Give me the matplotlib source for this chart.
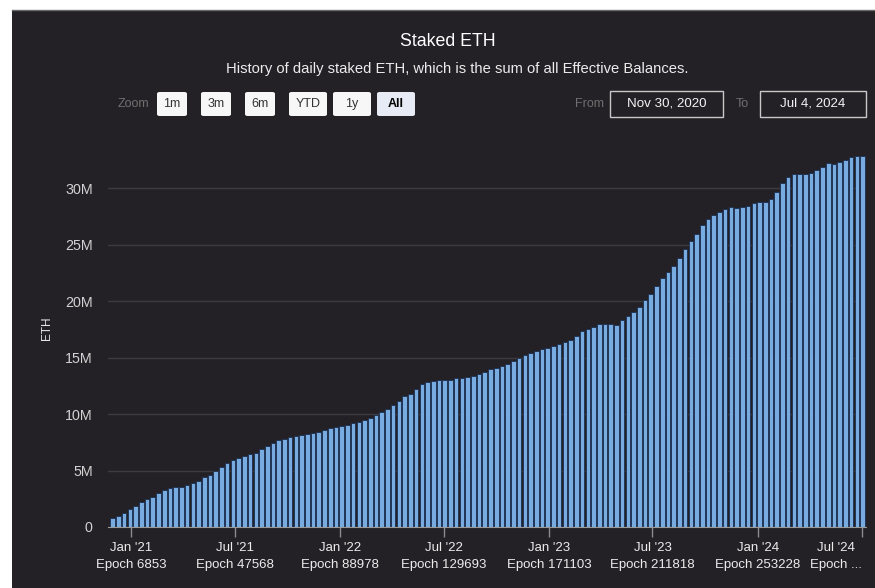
import matplotlib
matplotlib.use('Agg')
import matplotlib.pyplot as plt
from matplotlib.patches import Rectangle, FancyBboxPatch
import pandas as pd

plt.rcParams['font.family'] = ['Liberation Sans', 'DejaVu Sans']

# Staked ETH (millions), one reading every 10 days from Nov 30, 2020
start_date = '2020-11-30'
staked_m = [
    0.77, 0.94, 1.25, 1.6, 1.9, 2.2, 2.45, 2.7, 2.98, 3.3,
    3.46, 3.52, 3.57, 3.72, 3.88, 4.08, 4.4, 4.64, 4.93, 5.3,
    5.65, 5.93, 6.12, 6.31, 6.43, 6.55, 6.87, 7.18, 7.47, 7.71,
    7.79, 7.94, 8.06, 8.12, 8.21, 8.32, 8.45, 8.6, 8.74, 8.82,
    8.9, 9.01, 9.18, 9.33, 9.45, 9.65, 9.9, 10.18, 10.47, 10.8,
    11.18, 11.57, 11.82, 12.23, 12.62, 12.83, 12.94, 12.98, 12.98, 13.05,
    13.15, 13.22, 13.28, 13.4, 13.53, 13.75, 13.99, 14.1, 14.25, 14.47,
    14.7, 14.96, 15.24, 15.45, 15.62, 15.76, 15.89, 16.02, 16.18, 16.38,
    16.6, 16.87, 17.33, 17.54, 17.74, 17.97, 17.99, 17.95, 17.9, 18.3,
    18.65, 19.03, 19.5, 20.14, 20.66, 21.34, 22.07, 22.57, 23.13, 23.8,
    24.6, 25.29, 25.9, 26.74, 27.27, 27.59, 27.88, 28.16, 28.29, 28.21,
    28.29, 28.43, 28.67, 28.74, 28.75, 29.08, 29.62, 30.45, 31.0, 31.22,
    31.27, 31.29, 31.36, 31.58, 31.88, 32.25, 32.15, 32.29, 32.5, 32.73,
    32.86, 32.85,
]

tick_dates = ['2021-01-01', '2021-07-01', '2022-01-01', '2022-07-01',
              '2023-01-01', '2023-07-01', '2024-01-01', '2024-07-01']
tick_months = ["Jan '21", "Jul '21", "Jan '22", "Jul '22",
               "Jan '23", "Jul '23", "Jan '24", "Jul '24"]
tick_epochs = ['6853', '47568', '88978', '129693',
               '171103', '211818', '253228', '...']

y_ticks = [0, 5, 10, 15, 20, 25, 30]
y_labels = ['0', '5M', '10M', '15M', '20M', '25M', '30M']

zoom_buttons = ['1m', '3m', '6m', 'YTD', '1y', 'All']
date_from = 'Nov 30, 2020'
date_to = 'Jul 4, 2024'

W, H = 875, 588
BG = '#232125'
BAR = '#78abdf'


def fx(x):
    return x / W


def fy(y):
    return 1 - y / H


fig = plt.figure(figsize=(W / 100, H / 100), dpi=100, facecolor='white')

# dark panel behind everything
fig.patches.append(Rectangle((fx(12), 0), 1 - fx(12), fy(10), transform=fig.transFigure,
                             facecolor=BG, edgecolor='none', zorder=-5))
fig.lines.append(plt.Line2D([fx(12), 1], [fy(10), fy(10)], transform=fig.transFigure,
                            color='#6a6a6a', lw=1, zorder=-4))

dates = pd.date_range(start_date, periods=len(staked_m), freq='10D')
x0 = pd.Timestamp(start_date)

ax = fig.add_axes([fx(108), fy(527), fx(866) - fx(108), fy(143) - fy(527)])
ax.set_zorder(2)
ax.set_facecolor('none')
ax.bar(dates, staked_m, width=8.0, color=BAR, edgecolor='#1b3050', linewidth=0.6, zorder=3)

ax.set_xlim(x0 - pd.Timedelta(days=8.2), x0 + pd.Timedelta(days=1316))
ax.set_ylim(0, 34)

ax.set_yticks(y_ticks)
ax.set_yticklabels(y_labels)
ax.yaxis.grid(True, color='#3d3b3f', linewidth=1, zorder=0)
ax.set_axisbelow(True)
ax.tick_params(axis='y', length=0, pad=11, labelcolor='#d2d2d2', labelsize=10.3)

ax.set_xticks(pd.to_datetime(tick_dates))
ax.set_xticklabels([f'{m}\nEpoch {e}' for m, e in zip(tick_months, tick_epochs)],
                   linespacing=1.5, multialignment='center')
ax.get_xticklabels()[-1].set_horizontalalignment('right')
ax.tick_params(axis='x', direction='out', length=7, width=1, color='#8c8c8c',
               pad=4, labelcolor='#ececec', labelsize=9.5)

for side in ['top', 'right', 'left']:
    ax.spines[side].set_visible(False)
ax.spines['bottom'].set_color('#9a9a9a')
ax.spines['bottom'].set_zorder(4)

fig.text(fx(47), fy(328), 'ETH', rotation=90, ha='center', va='center',
         color='#e6e6e6', fontsize=8.5)

# title block
fig.text(fx(448), fy(41), 'Staked ETH', ha='center', va='center', color='white', fontsize=12.8)
fig.text(fx(457), fy(69), 'History of daily staked ETH, which is the sum of all Effective Balances.',
         ha='center', va='center', color='#ececec', fontsize=10.6)

# range selector
fig.text(fx(133), fy(104), 'Zoom', ha='center', va='center', color='#6f6f6f', fontsize=9)
btn_x = [157, 201, 245, 289, 333, 377]
btn_w = [30, 30, 30, 38, 38, 38]
for label, bx, bw in zip(zoom_buttons, btn_x, btn_w):
    active = label == 'All'
    fig.patches.append(FancyBboxPatch((fx(bx), fy(116)), fx(bw), fy(92) - fy(116),
                                      boxstyle='round,pad=0,rounding_size=0.003',
                                      transform=fig.transFigure,
                                      facecolor='#e6ebf5' if active else '#f7f7f7',
                                      edgecolor='none'))
    fig.text(fx(bx + bw / 2), fy(104), label, ha='center', va='center',
             color='black' if active else '#333333', fontsize=9,
             fontweight='bold' if active else 'normal')

fig.text(fx(590), fy(104), 'From', ha='center', va='center', color='#6f6f6f', fontsize=9)
fig.text(fx(742), fy(104), 'To', ha='center', va='center', color='#6f6f6f', fontsize=9)
for txt, bx, bw in [(date_from, 610, 113), (date_to, 760, 106)]:
    fig.patches.append(Rectangle((fx(bx), fy(117)), fx(bw), fy(91) - fy(117),
                                 transform=fig.transFigure, facecolor=BG,
                                 edgecolor='#c8c8c8', linewidth=1))
    fig.text(fx(bx + bw / 2), fy(104), txt, ha='center', va='center',
             color='#f2f2f2', fontsize=9.6)

fig.savefig('out.png', dpi=100, facecolor='white')
